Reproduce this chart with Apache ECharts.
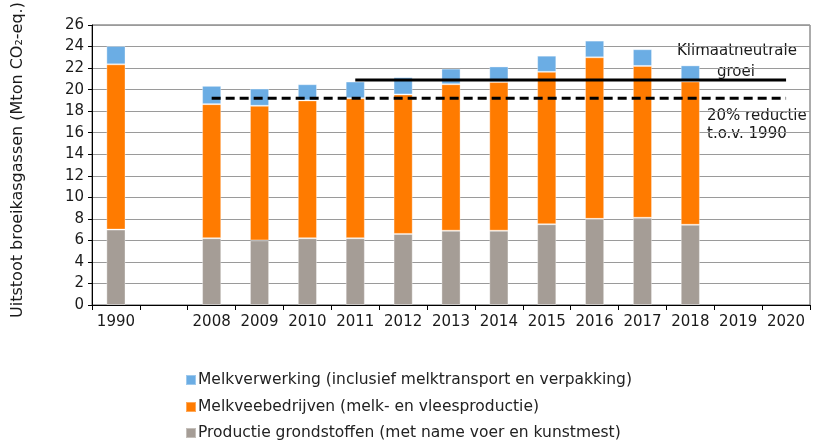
<!DOCTYPE html>
<html lang="nl">

<head>
  <meta charset="UTF-8">
  <title>Uitstoot broeikasgassen zuivelketen</title>
  <style>
    html, body { margin: 0; padding: 0; background: #fff; }
    #chart { width: 813px; height: 440px; }
  </style>
</head>

<body>
  <div id="chart"></div>
  <script src="https://cdn.jsdelivr.net/npm/echarts@6/dist/echarts.min.js"></script>
  <script>
    // jaren op de x-as (lege categorie tussen 1990 en 2008)
    var years = ['1990', '', '2008', '2009', '2010', '2011', '2012', '2013', '2014', '2015', '2016', '2017', '2018', '2019', '2020'];
    // Mton CO2-eq. per onderdeel
    var grondstoffen = [7.0, null, 6.2, 6.0, 6.2, 6.2, 6.6, 6.9, 6.9, 7.5, 8.0, 8.1, 7.45, null, null];
    var veebedrijven = [15.35, null, 12.45, 12.5, 12.8, 13.0, 12.95, 13.6, 13.8, 14.15, 15.0, 14.1, 13.3, null, null];
    var verwerking = [1.7, null, 1.7, 1.6, 1.5, 1.55, 1.6, 1.45, 1.45, 1.5, 1.55, 1.55, 1.5, null, null];
    // doellijnen
    var neutraal = [null, null, null, null, null, 20.9, 20.9, 20.9, 20.9, 20.9, 20.9, 20.9, 20.9, 20.9, 20.9];
    var reductie = [null, null, 19.2, 19.2, 19.2, 19.2, 19.2, 19.2, 19.2, 19.2, 19.2, 19.2, 19.2, 19.2, 19.2];

    var names = [
      'Melkverwerking (inclusief melktransport en verpakking)',
      'Melkveebedrijven (melk- en vleesproductie)',
      'Productie grondstoffen (met name voer en kunstmest)'
    ];

    var font = 'DejaVu Sans';
    var myChart = echarts.init(document.getElementById('chart'));

    function barSerie(name, data, color) {
      return {
        name: name,
        type: 'bar',
        stack: 'totaal',
        barWidth: '40%',
        data: data,
        itemStyle: {
          color: color,
          borderColor: 'rgba(255,255,255,0.35)',
          borderWidth: 1
        },
        emphasis: { disabled: true }
      };
    }

    // een legenda per regel, onder elkaar
    function legendRow(name, top) {
      return {
        left: 185,
        top: top,
        padding: 0,
        itemWidth: 10,
        itemHeight: 10,
        icon: 'rect',
        data: [name],
        selectedMode: false,
        textStyle: { fontFamily: font, fontSize: 15.5, color: '#222', padding: [0, 0, 0, -3] }
      };
    }

    var option = {
      animation: false,
      grid: {
        left: 92, right: 3, top: 25, bottom: 135,
        outerBoundsMode: 'none',
        show: true, borderColor: '#595959', borderWidth: 1
      },
      legend: [
        legendRow(names[0], 372),
        legendRow(names[1], 399),
        legendRow(names[2], 425)
      ],
      xAxis: {
        type: 'category',
        data: years,
        axisLine: { lineStyle: { color: '#000', width: 1 } },
        axisTick: { show: true, length: 5, interval: 0, lineStyle: { color: '#000' } },
        axisLabel: { fontFamily: font, fontSize: 15, color: '#1a1a1a', margin: 10, interval: 0 }
      },
      yAxis: {
        type: 'value',
        min: 0,
        max: 26,
        interval: 2,
        name: 'Uitstoot broeikasgassen (Mton CO₂-eq.)',
        nameLocation: 'middle',
        nameGap: 66,
        nameTextStyle: { fontFamily: font, fontSize: 16, color: '#1a1a1a', padding: [0, 0, 0, 10] },
        axisLine: { show: true, lineStyle: { color: '#000', width: 1 } },
        axisTick: { show: true, length: 4, lineStyle: { color: '#000' } },
        axisLabel: { fontFamily: font, fontSize: 15, color: '#1a1a1a', margin: 8 },
        splitLine: { lineStyle: { color: '#9a9a9a', width: 1 } }
      },
      series: [
        barSerie(names[2], grondstoffen, '#a59d96'),
        barSerie(names[1], veebedrijven, '#ff7b00'),
        barSerie(names[0], verwerking, '#6badE4'),
        {
          name: 'Klimaatneutrale groei',
          type: 'line',
          data: neutraal,
          showSymbol: false,
          z: 5,
          lineStyle: { color: '#000', width: 3 }
        },
        {
          name: '20% reductie t.o.v. 1990',
          type: 'line',
          data: reductie,
          showSymbol: false,
          z: 5,
          lineStyle: { color: '#000', width: 3, type: [9, 5] }
        }
      ],
      graphic: [
        { type: 'text', left: 677, top: 44, z: 0, style: { text: 'Klimaatneutrale', font: '15px "DejaVu Sans"', fill: '#1a1a1a' } },
        { type: 'text', left: 717, top: 65, z: 0, style: { text: 'groei', font: '15px "DejaVu Sans"', fill: '#1a1a1a' } },
        { type: 'text', left: 707, top: 109, z: 0, style: { text: '20% reductie', font: '15px "DejaVu Sans"', fill: '#1a1a1a' } },
        { type: 'text', left: 707, top: 127, z: 0, style: { text: 't.o.v. 1990', font: '15px "DejaVu Sans"', fill: '#1a1a1a' } }
      ]
    };

    myChart.setOption(option);
  </script>
</body>

</html>
